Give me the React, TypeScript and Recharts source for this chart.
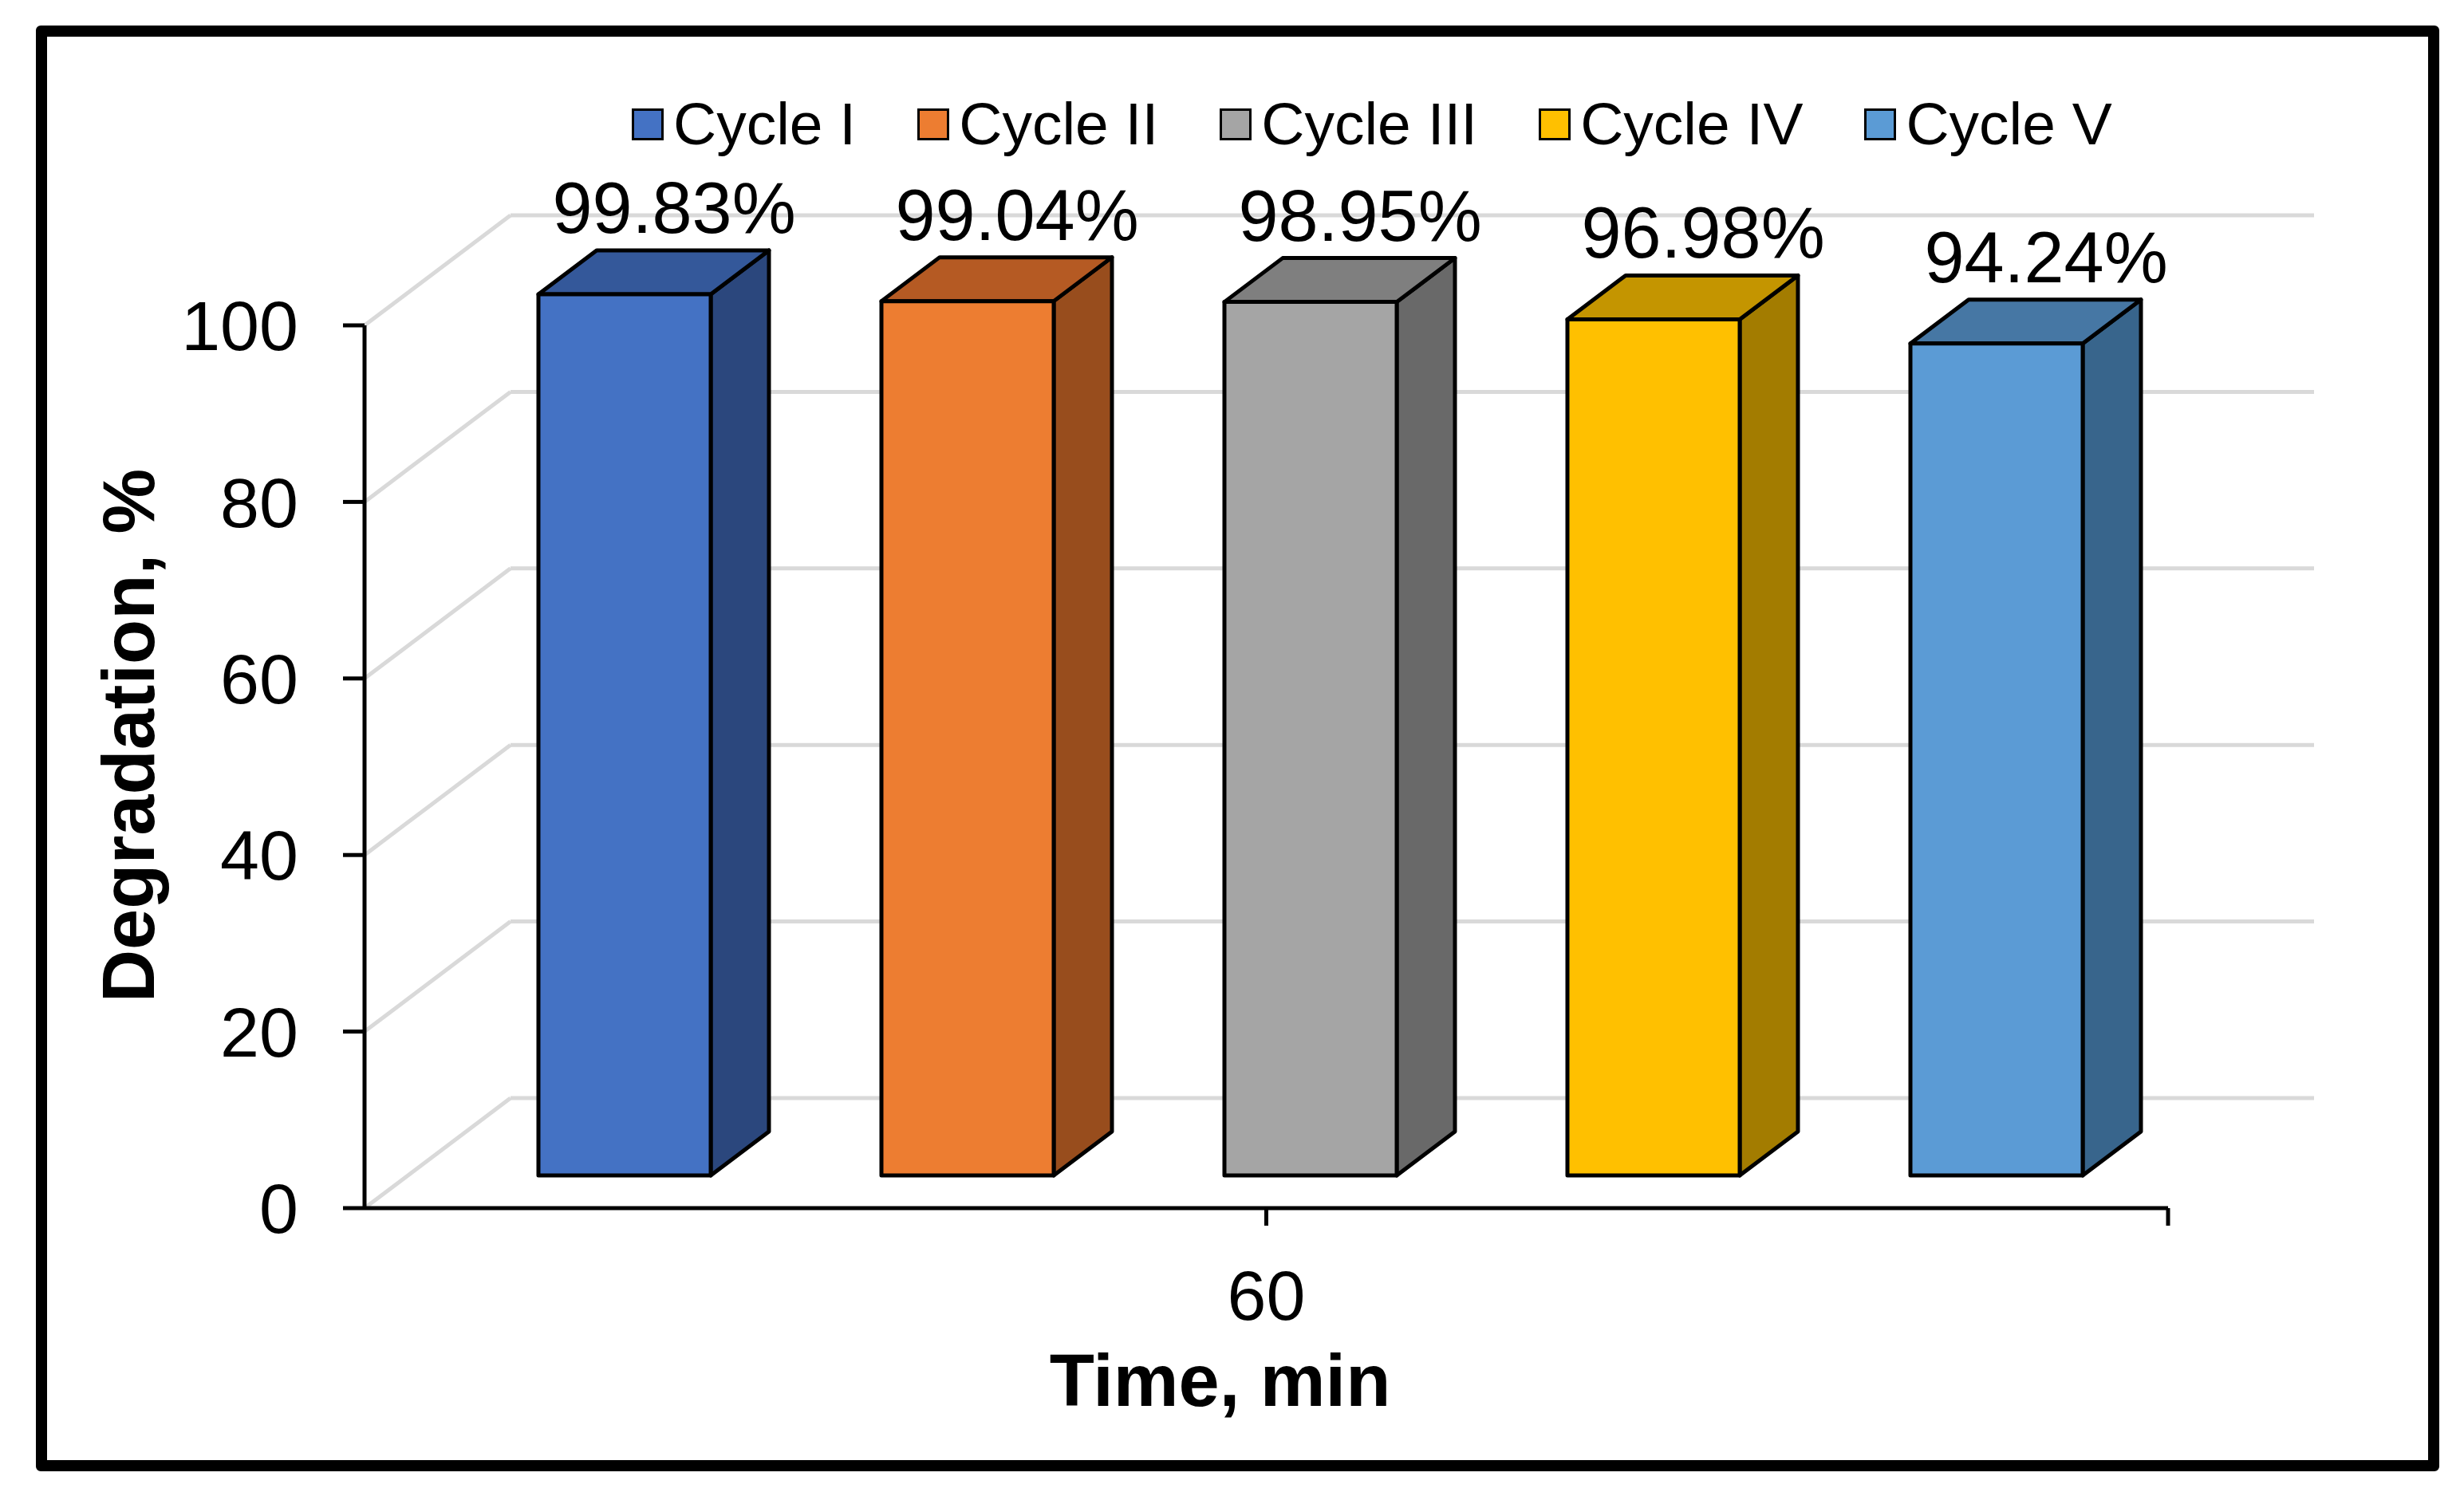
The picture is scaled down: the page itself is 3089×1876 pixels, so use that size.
import React from "react";
import {
  BarChart,
  Bar,
  XAxis,
  YAxis,
  CartesianGrid,
  Legend,
  LabelList,
  Label,
} from "recharts";

// values
const times = ["60"];
const cycleNames = ["Cycle I", "Cycle II", "Cycle III", "Cycle IV", "Cycle V"];
const cycleKeys = ["c1", "c2", "c3", "c4", "c5"];
const degradation = [99.83, 99.04, 98.95, 96.98, 94.24];
const yTicks = [0, 20, 40, 60, 80, 100];

const frontColors = ["#4472C4", "#ED7D31", "#A5A5A5", "#FFC000", "#5B9BD5"];
const topColors = ["#34589A", "#B55A23", "#7F7F7F", "#C49500", "#4677A4"];
const sideColors = ["#2B477D", "#984D1D", "#696969", "#A37C00", "#38658C"];

const data = times.map((t) => {
  const row: any = { time: t };
  cycleKeys.forEach((k, i) => (row[k] = degradation[i]));
  return row;
});

const FONT = "'Liberation Sans', Arial, sans-serif";
const W = 3089;
const H = 1876;

// 3d look
const SHIFT_X = 55;
const SHIFT_Y = -41;
const DX = 73;
const DY = 55;
const WALL_DX = 183;
const WALL_DY = 138;

const makeBar3D = (i: number) => (props: any) => {
  const { x, y, width, height } = props;
  const fx = x + SHIFT_X;
  const fy = y + SHIFT_Y;
  const bottom = fy + height;
  const common = { stroke: "#000", strokeWidth: 5, strokeLinejoin: "round" as const };
  return (
    <g>
      <polygon
        points={`${fx + width},${fy} ${fx + width + DX},${fy - DY} ${fx + width + DX},${bottom - DY} ${fx + width},${bottom}`}
        fill={sideColors[i]}
        {...common}
      />
      <polygon
        points={`${fx},${fy} ${fx + DX},${fy - DY} ${fx + width + DX},${fy - DY} ${fx + width},${fy}`}
        fill={topColors[i]}
        {...common}
      />
      <rect x={fx} y={fy} width={width} height={height} fill={frontColors[i]} {...common} />
    </g>
  );
};

const renderValue = (props: any) => {
  const { x, y, width, value } = props;
  return (
    <text
      x={x + SHIFT_X + width / 2 + DX * 0.85}
      y={y + SHIFT_Y - DY - 22}
      textAnchor="middle"
      fontFamily={FONT}
      fontSize={90}
      fill="#000"
    >
      {value.toFixed(2)}%
    </text>
  );
};

const gridLine = (props: any) => {
  const { x1, y1, x2 } = props;
  return (
    <g key={props.key}>
      <line x1={x1} y1={y1} x2={x1 + WALL_DX} y2={y1 - WALL_DY} stroke="#D9D9D9" strokeWidth={5} />
      <line
        x1={x1 + WALL_DX}
        y1={y1 - WALL_DY}
        x2={x2 + WALL_DX}
        y2={y1 - WALL_DY}
        stroke="#D9D9D9"
        strokeWidth={5}
      />
    </g>
  );
};

const XTick = (props: any) => {
  const { x, y, payload } = props;
  const axisY = y - 78;
  const off = payload && payload.offset ? payload.offset : 0;
  return (
    <g>
      <text x={x} y={y} dy="0.71em" textAnchor="middle" fontFamily={FONT} fontSize={88} fill="#000">
        {payload.value}
      </text>
      {off > 0 && (
        <line x1={x + off} y1={axisY} x2={x + off} y2={axisY + 22} stroke="#000" strokeWidth={5} />
      )}
    </g>
  );
};

const LegendContent = (props: any) => {
  const items = props.payload || [];
  return (
    <div style={{ display: "flex", alignItems: "center", height: 75 }}>
      {items.map((it: any, i: number) => (
        <div key={i} style={{ display: "flex", alignItems: "center", marginRight: 77 }}>
          <div
            style={{
              width: 34,
              height: 34,
              background: it.color,
              border: "3px solid #000",
              marginRight: 12,
            }}
          />
          <span style={{ fontFamily: FONT, fontSize: 75, lineHeight: 1, color: "#000" }}>
            {it.value}
          </span>
        </div>
      ))}
    </div>
  );
};

const XTitle = (props: any) => {
  const vb = props.viewBox;
  return (
    <text
      x={vb.x + vb.width / 2 - 58}
      y={vb.y + 248}
      textAnchor="middle"
      fontFamily={FONT}
      fontWeight="bold"
      fontSize={92}
      fill="#000"
    >
      Time, min
    </text>
  );
};

const YTitle = (props: any) => {
  const vb = props.viewBox;
  const cx = 193;
  const cy = vb.y + vb.height / 2 - 39;
  return (
    <text
      x={cx}
      y={cy}
      textAnchor="middle"
      transform={`rotate(-90, ${cx}, ${cy})`}
      fontFamily={FONT}
      fontWeight="bold"
      fontSize={92}
      fill="#000"
    >
      Degradation, %
    </text>
  );
};

export default function App() {
  return (
    <div style={{ position: "absolute", left: 0, top: 0, width: W, height: H, background: "#fff" }}>
      <div
        style={{
          position: "absolute",
          left: 45,
          top: 32,
          width: 3013 - 28,
          height: 1813 - 28,
          border: "14px solid #000",
          borderRadius: 6,
        }}
      />
      <BarChart
        width={W}
        height={H}
        data={data}
        margin={{ top: 408, right: 371, left: 337, bottom: 211 }}
        barSize={216}
        barGap={214}
      >
        <CartesianGrid vertical={false} horizontal={gridLine} stroke="#D9D9D9" />
        <XAxis
          dataKey="time"
          height={150}
          axisLine={{ stroke: "#000", strokeWidth: 5 }}
          tickLine={{ stroke: "#000", strokeWidth: 5 }}
          tickSize={22}
          tickMargin={56}
          tick={<XTick />}
        >
          <Label content={<XTitle />} />
        </XAxis>
        <YAxis
          width={120}
          domain={[0, 100]}
          ticks={yTicks}
          axisLine={{ stroke: "#000", strokeWidth: 5 }}
          tickLine={{ stroke: "#000", strokeWidth: 5 }}
          tickSize={27}
          tickMargin={56}
          tick={{ fill: "#000", fontSize: 88, fontFamily: FONT }}
        >
          <Label content={<YTitle />} />
        </YAxis>
        <Legend
          layout="horizontal"
          verticalAlign="middle"
          content={<LegendContent />}
          wrapperStyle={{ top: 118, left: 792, width: 2300, height: 75 }}
        />
        {cycleKeys.map((k, i) => (
          <Bar
            key={k}
            dataKey={k}
            name={cycleNames[i]}
            fill={frontColors[i]}
            shape={makeBar3D(i)}
            isAnimationActive={false}
          >
            <LabelList dataKey={k} content={renderValue} />
          </Bar>
        ))}
      </BarChart>
    </div>
  );
}
